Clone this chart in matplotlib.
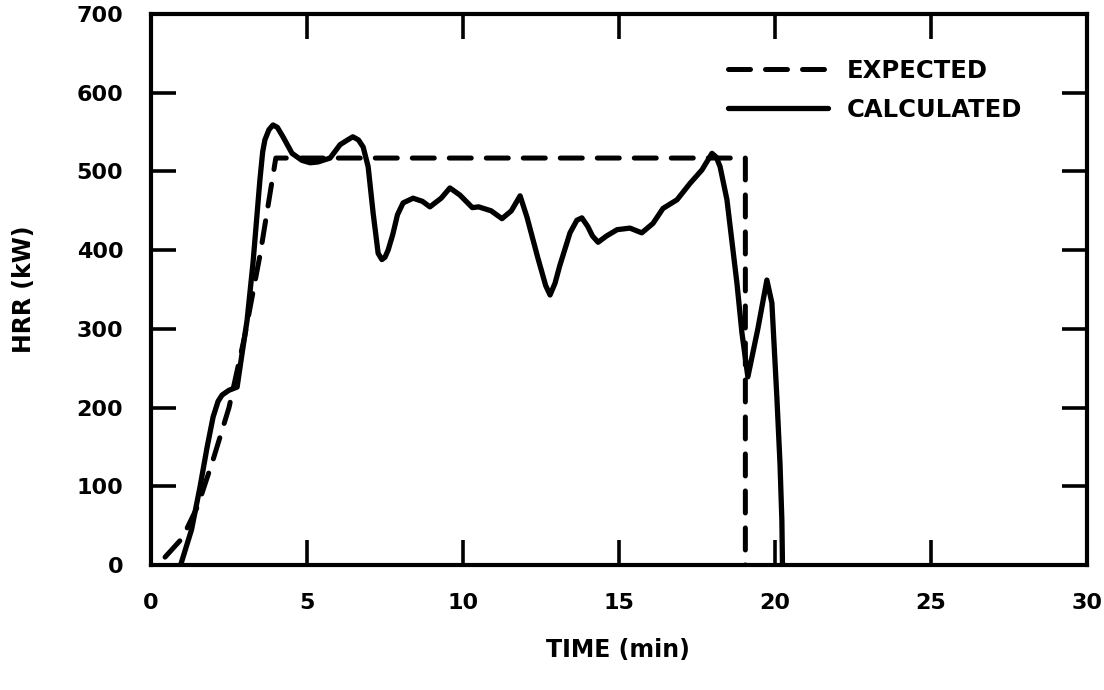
import matplotlib
matplotlib.use("Agg")
import matplotlib.pyplot as plt

# Expected HRR (dashed)
exp_time = [0.45, 1.0, 1.5, 2.0, 2.5, 3.0, 3.5, 4.0, 19.05, 19.05]
exp_hrr = [10, 34, 75, 135, 200, 290, 395, 517, 517, 0]

# Calculated HRR (solid)
calc_time = [0.95, 1.3, 1.57, 1.8, 1.99, 2.15, 2.28, 2.5, 2.76, 2.92, 3.08, 3.27,
             3.49, 3.58, 3.65, 3.78, 3.91, 4.05, 4.23, 4.52, 4.84, 5.1, 5.35, 5.74,
             6.06, 6.3, 6.47, 6.65, 6.8, 6.96, 7.12, 7.28, 7.4, 7.5, 7.6, 7.75, 7.9,
             8.08, 8.4, 8.7, 8.94, 9.3, 9.58, 9.9, 10.3, 10.5, 10.9, 11.25, 11.55,
             11.83, 12.05, 12.4, 12.65, 12.79, 12.95, 13.1, 13.43, 13.65, 13.81,
             14.0, 14.15, 14.33, 14.6, 14.94, 15.35, 15.73, 16.09, 16.41, 16.86,
             17.28, 17.66, 17.98, 18.12, 18.24, 18.46, 18.78, 18.94, 19.13, 19.45,
             19.74, 19.9, 20.06, 20.16, 20.22, 20.24]
calc_hrr = [0, 45, 99, 150, 188, 208, 216, 222, 226, 269, 311, 384,
            489, 525, 540, 553, 559, 556, 544, 523, 514, 511, 512, 517,
            534, 540, 544, 540, 531, 506, 447, 396, 388, 391, 400, 420, 445,
            460, 466, 462, 455, 466, 479, 470, 454, 455, 450, 440, 450,
            469, 442, 390, 355, 343, 358, 380, 422, 438, 441,
            430, 418, 410, 418, 426, 428, 422, 434, 453, 464,
            485, 502, 523, 518, 506, 464, 358, 295, 239, 300,
            362, 333, 213, 129, 57, 0]

x_ticks = [0, 5, 10, 15, 20, 25, 30]
y_ticks = [0, 100, 200, 300, 400, 500, 600, 700]

plt.rcParams['font.family'] = ['DejaVu Sans']
plt.rcParams['font.weight'] = 'bold'

fig = plt.figure(figsize=(11.04, 6.9), dpi=100)
ax = fig.add_axes([151/1104, 1-565/690, (1087-151)/1104, (565-14)/690])

ax.plot(exp_time, exp_hrr, color='black', lw=3.6, linestyle=(0, (4.4, 3.0)),
        dash_capstyle='round', solid_joinstyle='miter', label='EXPECTED')
ax.plot(calc_time, calc_hrr, color='black', lw=3.8, solid_joinstyle='round',
        solid_capstyle='round', label='CALCULATED')

ax.set_xlim(0, 30)
ax.set_ylim(0, 700)
ax.set_xticks(x_ticks)
ax.set_yticks(y_ticks)
ax.tick_params(direction='in', length=18, width=2.6, top=True, right=True,
               labelsize=16, pad=20)
for lab in ax.get_xticklabels() + ax.get_yticklabels():
    lab.set_fontweight('bold')
for s in ax.spines.values():
    s.set_linewidth(3.0)

ax.set_xlabel('TIME (min)', fontsize=17, fontweight='bold')
ax.set_ylabel('HRR (kW)', fontsize=17, fontweight='bold')
ax.xaxis.set_label_coords(0.499, (565-638)/551)
ax.yaxis.set_label_coords((36-151)/936, 0.5)

leg = ax.legend(loc='upper left', bbox_to_anchor=((728-151)/936, 1-(59-14)/551),
                frameon=False, fontsize=17.5, handlelength=4.1, handletextpad=0.8,
                labelspacing=0.6, borderpad=0, borderaxespad=0)
for t in leg.get_texts():
    t.set_fontweight('bold')

fig.savefig('out.png', dpi=100)
